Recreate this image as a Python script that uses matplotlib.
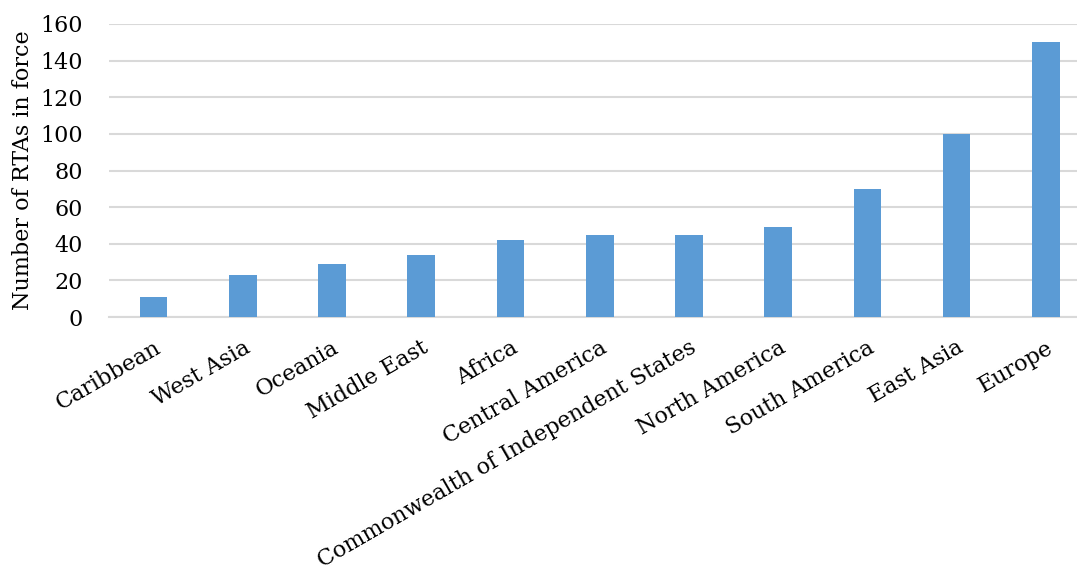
import matplotlib.pyplot as plt

regions = ["Caribbean", "West Asia", "Oceania", "Middle East", "Africa",
           "Central America", "Commonwealth of Independent States",
           "North America", "South America", "East Asia", "Europe"]
rtas = [11, 23, 29, 34, 42, 45, 45, 49, 70, 100, 150]
yticks = [0, 20, 40, 60, 80, 100, 120, 140, 160]

plt.rcParams['font.family'] = ['DejaVu Serif']

fig = plt.figure(figsize=(10.77, 5.71), dpi=100)
ax = fig.add_axes([109 / 1077, 1 - 317 / 571, 1 - 109 / 1077, (317 - 24) / 571])

x = range(len(regions))
ax.bar(x, rtas, width=0.31, color='#5B9BD5', zorder=3)

ax.set_ylim(0, 160)
ax.set_xlim(-0.5, 10.35)
ax.set_yticks(yticks)
ax.yaxis.grid(True, color='#D9D9D9', linewidth=1.5, zorder=0)
for s in ['top', 'right', 'left']:
    ax.spines[s].set_visible(False)
ax.spines['bottom'].set_color('#D9D9D9')
ax.spines['bottom'].set_linewidth(1.5)
ax.tick_params(axis='both', length=0, labelsize=16)
ax.tick_params(axis='x', pad=14)
ax.tick_params(axis='y', pad=19)

ax.set_xticks(list(x))
ax.set_xticklabels(regions, rotation=30, ha='right', rotation_mode='anchor')
ax.set_ylabel("Number of RTAs in force", fontsize=16, labelpad=4)

fig.savefig("out.png", dpi=100)
